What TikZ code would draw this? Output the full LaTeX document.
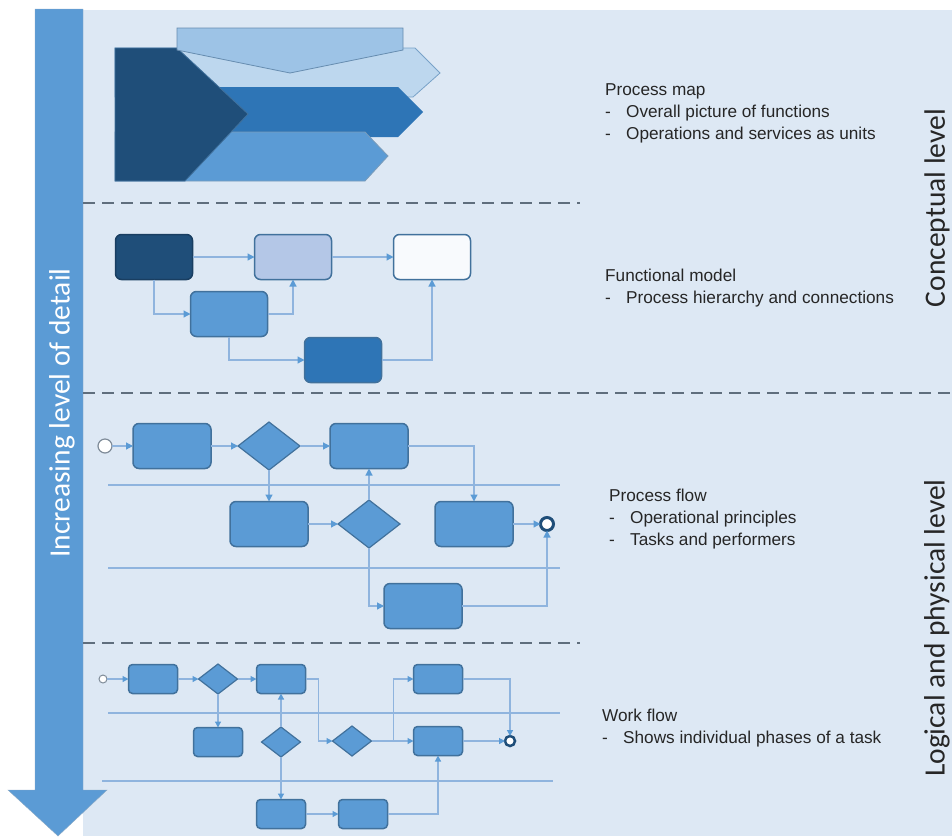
\documentclass[tikz,border=0pt]{standalone}
\usepackage{fontspec}
\setmainfont{Liberation Sans}
\newfontfamily\levelfont{Carlito}
\usepackage{tikz}
\usetikzlibrary{arrows.meta,shapes.geometric,positioning}
\usepackage{xcolor}
\definecolor{dfpanel}{RGB}{221,232,244}
\definecolor{dfnavy}{RGB}{31,78,121}
\definecolor{dfblue}{RGB}{46,117,182}
\definecolor{dfmid}{RGB}{91,155,213}
\definecolor{dfpale}{RGB}{157,195,230}
\definecolor{dflight}{RGB}{189,215,238}
\definecolor{dfsoft}{RGB}{180,199,231}
\definecolor{dfedge}{RGB}{65,113,156}
\definecolor{dflink}{RGB}{143,180,222}
\definecolor{dfdash}{RGB}{95,110,125}
\definecolor{dfgray}{RGB}{127,140,153}
\definecolor{dftext}{RGB}{38,38,38}
\tikzstyle{link} = [draw=dflink, line width=1.2pt, -{Triangle[length=7pt,width=7pt,color=dfmid]}]
\tikzstyle{slink} = [link, -{Triangle[length=6pt,width=6pt,color=dfmid]}]
\tikzstyle{lane} = [draw=dflink, line width=1.2pt]
\tikzstyle{levelline} = [draw=dfdash, dash pattern=on 12pt off 7pt, line width=2.5pt]
\tikzstyle{fbox} = [rectangle, rounded corners=6pt, draw=dfedge, line width=1.5pt, minimum width=77pt, minimum height=45pt, outer sep=0pt]
\tikzstyle{task} = [fbox, fill=dfmid, minimum width=78pt]
\tikzstyle{gate} = [diamond, draw=dfedge, fill=dfmid, line width=1.2pt, minimum width=62pt, minimum height=48pt, inner sep=0pt, outer sep=0pt]
\tikzstyle{stask} = [task, minimum width=49pt, minimum height=29pt, rounded corners=4pt]
\tikzstyle{sgate} = [gate, minimum width=39pt, minimum height=30pt]
\tikzstyle{startev} = [circle, draw=dfgray, fill=white, line width=1.2pt, minimum size=14pt, inner sep=0pt, outer sep=0pt]
\tikzstyle{endev} = [circle, draw=dfnavy, fill=white, line width=3pt, minimum size=13pt, inner sep=0pt, outer sep=0pt]
\tikzstyle{sstart} = [startev, minimum size=8pt, line width=1pt]
\tikzstyle{send} = [endev, minimum size=10pt, line width=2.5pt]
\tikzstyle{note} = [anchor=north west, align=left, font=\fontsize{17.2}{22}\selectfont, text=dftext, inner sep=0pt]
\tikzstyle{levellabel} = [rotate=90, font=\levelfont\fontsize{29.5}{30}\selectfont, text=dftext]
\newcommand{\bul}{\makebox[21pt][l]{-}}

\begin{document}
\begin{tikzpicture}[x=1pt, y=-1pt]
\useasboundingbox (0,0) rectangle (952,836);
% Panel and detail arrow
\fill[dfpanel] (83,10) rectangle (952,836);
\filldraw[fill=dfmid, draw=dfedge!60] (35,9) -- (83,9) -- (83,790) -- (107,790) -- (58,836) -- (8,790) -- (35,790) -- cycle;
\node[levellabel, text=white] (detail) at (62,413) {Increasing level of detail};

% Level separators
\draw[levelline] (83,203) -- (580,203);
\draw[levelline] (83,393) -- (952,393);
\draw[levelline] (83,643) -- (580,643);

% Process map
\filldraw[fill=dflight, draw=dfpale!60!dfedge, line width=0.8pt] (115,48) -- (415,48) -- (440,73) -- (413,97) -- (115,97) -- cycle;
\fill[dfblue] (115,87) -- (398,87) -- (423,112) -- (398,137) -- (115,137) -- cycle;
\filldraw[fill=dfmid, draw=dfedge!70, line width=0.8pt] (115,132) -- (365,132) -- (388,156) -- (365,181) -- (115,181) -- cycle;
\filldraw[fill=dfnavy, draw=dfedge, line width=0.8pt] (115,48) -- (177,48) -- (248,114) -- (185,181) -- (115,181) -- cycle;
\filldraw[fill=dfpale, draw=dfedge!80, line width=0.8pt] (177,28) -- (403,28) -- (403,50) -- (290,73) -- (177,50) -- cycle;

% Functional model
\node[fbox, fill=dfnavy, draw=dfnavy!80!black] (fA) at (154,257) {};
\node[fbox, fill=dfsoft] (fB) at (293,257) {};
\node[fbox, fill=white!80!dfpanel] (fC) at (432,257) {};
\node[fbox, fill=dfmid] (fD) at (229,314) {};
\node[fbox, fill=dfblue] (fE) at (343,360) {};
\draw[link] (fA) -- (fB);
\draw[link] (fB) -- (fC);
\draw[link] (fA.south) |- (fD.west);
\draw[link] (fD.east) -| (fB.south);
\draw[link] (fD.south) |- (fE.west);
\draw[link] (fE.east) -| (fC.south);

% Process flow
\draw[lane] (108,485) -- (560,485);
\draw[lane] (108,568) -- (560,568);
\node[startev] (pS) at (105,446) {};
\node[task] (p1) at (172,446) {};
\node[gate] (g1) at (269,446) {};
\node[task] (p2) at (369,446) {};
\node[task] (p3) at (269,524) {};
\node[gate] (g2) at (369,524) {};
\node[task] (p4) at (474,524) {};
\node[endev] (pE) at (547,524) {};
\node[task] (p5) at (423,606) {};
\draw[link] (pS) -- (p1);
\draw[link] (p1) -- (g1);
\draw[link] (g1) -- (p2);
\draw[link] (g1) -- (p3);
\draw[link] (p3) -- (g2);
\draw[link] (g2) -- (p2);
\draw[link] (p2.east) -| (p4.north);
\draw[link] (p4) -- (pE);
\draw[link] (g2.south) |- (p5.west);
\draw[link] (p5.east) -| (pE.south);

% Work flow
\draw[lane] (108,713) -- (560,713);
\draw[lane] (102,781) -- (553,781);
\node[sstart] (wS) at (103,679) {};
\node[stask] (w1) at (153,679) {};
\node[sgate] (d1) at (218,679) {};
\node[stask] (w2) at (281,679) {};
\node[stask] (w3) at (438,679) {};
\node[stask] (w4) at (218,742) {};
\node[sgate] (d2) at (281,742) {};
\node[sgate] (d3) at (352,741) {};
\node[stask] (w5) at (438,741) {};
\node[send] (wE) at (510,741) {};
\node[stask] (w6) at (281,814) {};
\node[stask] (w7) at (363,814) {};
\draw[slink] (wS) -- (w1);
\draw[slink] (w1) -- (d1);
\draw[slink] (d1) -- (w2);
\draw[slink] (d1) -- (w4);
\draw[slink] (d2) -- (w2);
\draw[slink] (d2) -- (w6);
\draw[slink] (w2.east) -- ++(13,0) |- (d3.west);
\draw[slink] (d3) -- (w5);
\draw[slink] (d3.east) -- ++(22,0) |- (w3.west);
\draw[slink] (w3.east) -| (wE.north);
\draw[slink] (w5) -- (wE);
\draw[slink] (w6) -- (w7);
\draw[slink] (w7.east) -| (w5.south);

% Descriptions
\node[note] (mapnote) at (605,83) {Process map\\ \bul Overall picture of functions\\ \bul Operations and services as units};
\node[note] (funcnote) at (605,269) {Functional model\\ \bul Process hierarchy and connections};
\node[note] (flownote) at (609,489) {Process flow\\ \bul Operational principles\\ \bul Tasks and performers};
\node[note] (worknote) at (602,709) {Work flow\\ \bul Shows individual phases of a task};

% Levels
\node[levellabel] (concept) at (937,208) {Conceptual level};
\node[levellabel] (logical) at (937,628) {Logical and physical level};
\end{tikzpicture}
\end{document}
